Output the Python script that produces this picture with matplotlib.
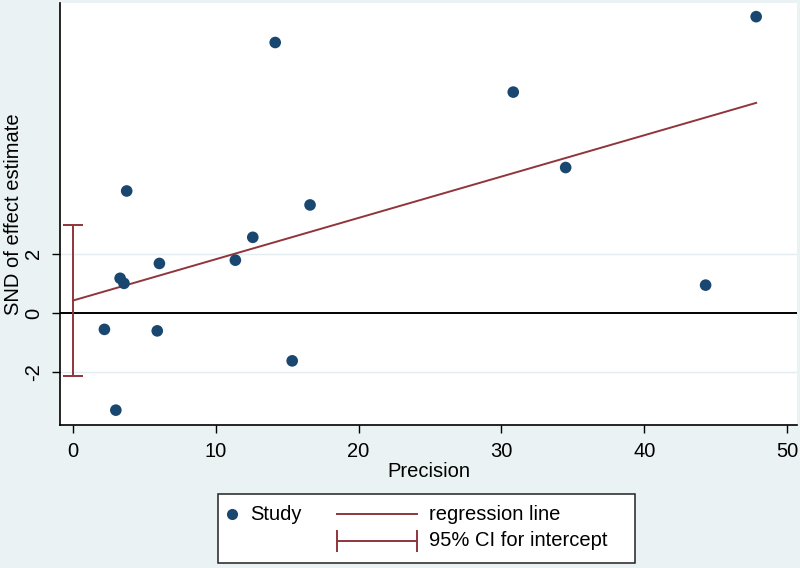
import matplotlib
matplotlib.use("Agg")
import matplotlib.pyplot as plt
from matplotlib.lines import Line2D
from matplotlib.patches import Rectangle
import numpy as np

# Study data
precision = [3.0, 2.2, 3.3, 3.57, 3.76, 6.05, 5.9, 11.37, 12.59,
             14.16, 15.35, 16.6, 30.83, 34.5, 44.3, 47.84]
snd = [-3.27, -0.55, 1.17, 1.0, 4.11, 1.67, -0.6, 1.78, 2.55,
       9.11, -1.61, 3.64, 7.44, 4.9, 0.94, 9.98]
x_ticks = [0, 10, 20, 30, 40, 50]
y_ticks = [-2, 0, 2]
t_crit = 2.1448  # t(0.975, df=14)

NAVY = "#1a476f"
MAROON = "#90353b"
BG = "#eaf2f3"

plt.rcParams['font.family'] = ['Liberation Sans', 'DejaVu Sans']
plt.rcParams['axes.unicode_minus'] = False

# Egger regression
x = np.array(precision)
y = np.array(snd)
slope, intercept = np.polyfit(x, y, 1)
resid = y - (intercept + slope * x)
s = np.sqrt(np.sum(resid ** 2) / (len(x) - 2))
se_int = s * np.sqrt(1 / len(x) + x.mean() ** 2 / np.sum((x - x.mean()) ** 2))
ci_lo, ci_hi = intercept - t_crit * se_int, intercept + t_crit * se_int

fig = plt.figure(figsize=(8, 5.68), dpi=100, facecolor=BG)
ax = fig.add_axes([60 / 800, 1 - 425 / 568, 737 / 800, 422 / 568])
ax.set_facecolor("white")

for yy in (-2, 2):
    ax.axhline(yy, color="#e4edef", lw=1, zorder=0)
ax.axhline(0, color="black", lw=1.4, zorder=1)

xs = np.array([0, x.max()])
ax.plot(xs, intercept + slope * xs, color=MAROON, lw=1.4, zorder=2)
ax.errorbar([0], [intercept], yerr=[[intercept - ci_lo], [ci_hi - intercept]],
            fmt="none", ecolor=MAROON, elinewidth=1.4, capsize=7.5, capthick=1.4,
            zorder=2)
ax.scatter(x, y, s=70, color=NAVY, zorder=3, edgecolors="none")

ax.set_xlim(-0.91, 50.7)
ax.set_ylim(-3.77, 10.44)
ax.set_xticks(x_ticks)
ax.set_yticks(y_ticks)
ax.tick_params(axis="both", direction="out", length=6, width=1, labelsize=14.5, pad=6)
for lab in ax.get_yticklabels():
    lab.set_rotation(90)
    lab.set_va("center")
for side in ("top", "right"):
    ax.spines[side].set_visible(False)
for side in ("left", "bottom"):
    ax.spines[side].set_linewidth(1.2)
ax.set_xlabel("Precision", fontsize=14.5, labelpad=1)
ax.set_ylabel("SND of effect estimate", fontsize=14.5, va="center")
ax.yaxis.set_label_coords(-46 / 737, 0.5)


# Legend drawn in figure pixels
def fx(px):
    return px / 800


def fy(py):
    return 1 - py / 568


fig.patches.append(Rectangle((fx(218), fy(563)), fx(635) - fx(218), fy(494) - fy(563),
                             transform=fig.transFigure, facecolor="white",
                             edgecolor="#222222", lw=1.1))
fig.lines.append(Line2D([fx(232)], [fy(514)], marker="o", ms=8, color=NAVY,
                        mec="none", transform=fig.transFigure))
fig.text(fx(250), fy(514), "Study", fontsize=14.5, va="center")
fig.lines.append(Line2D([fx(337), fx(417)], [fy(514)] * 2, color=MAROON, lw=1.4,
                        transform=fig.transFigure))
fig.text(fx(429), fy(514), "regression line", fontsize=14.5, va="center")
fig.lines.append(Line2D([fx(337), fx(417)], [fy(541)] * 2, color=MAROON, lw=1.4,
                        transform=fig.transFigure))
for cx in (337, 417):
    fig.lines.append(Line2D([fx(cx)] * 2, [fy(531), fy(551)], color=MAROON, lw=1.4,
                            transform=fig.transFigure))
fig.text(fx(429), fy(541), "95% CI for intercept", fontsize=14.5, va="center")

fig.savefig("out.png", dpi=100, facecolor=BG)
